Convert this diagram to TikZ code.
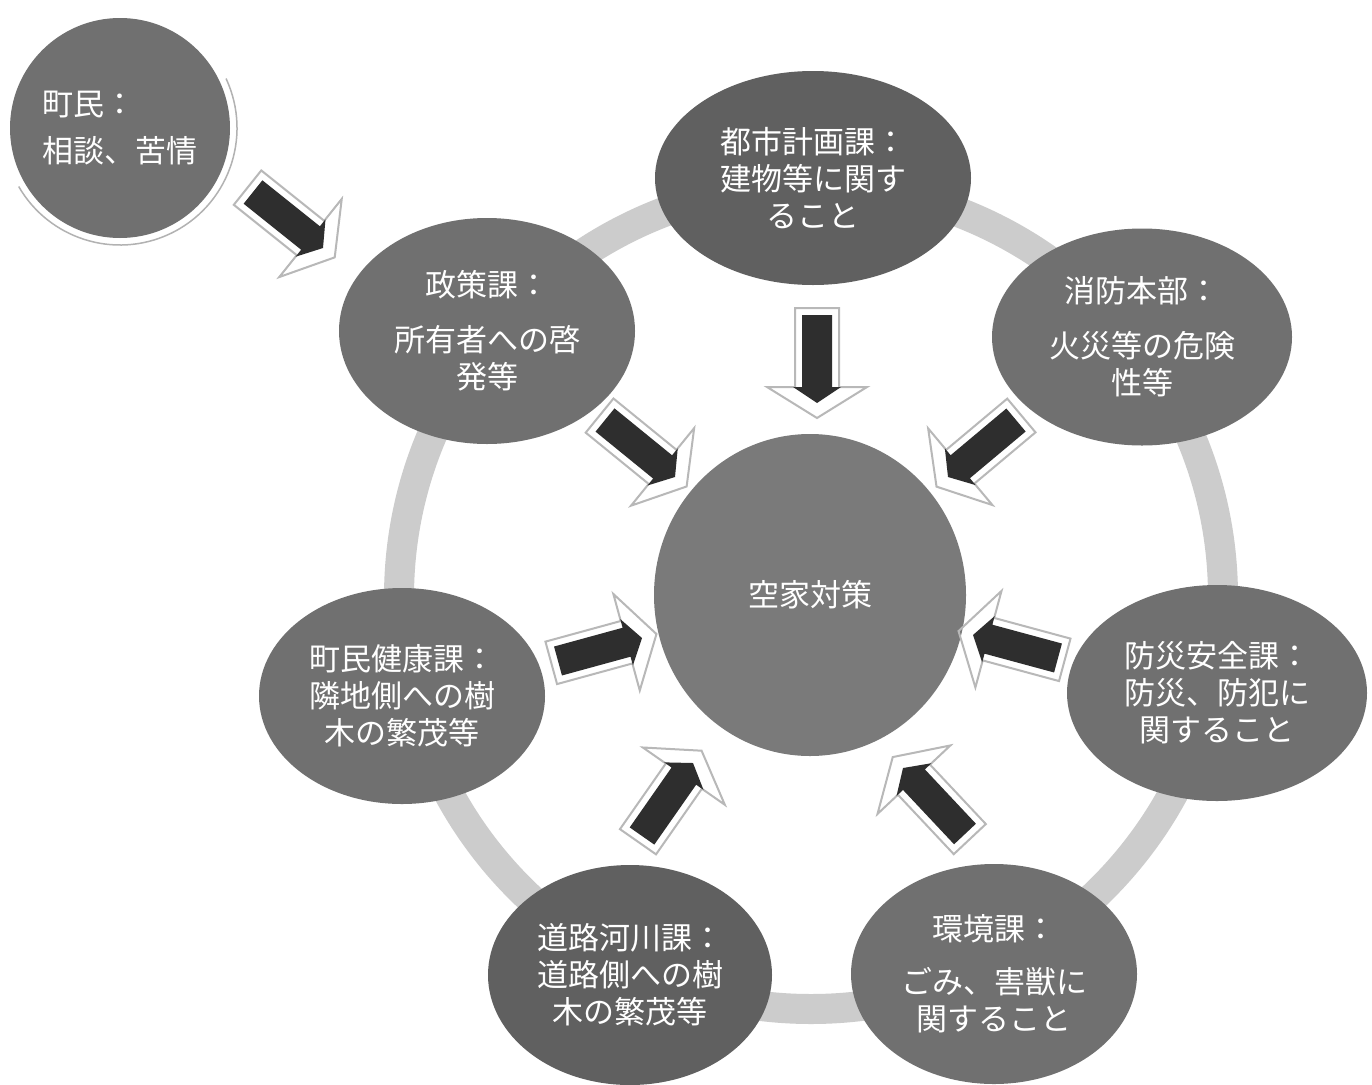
\documentclass[tikz,border=0pt]{standalone}
\usepackage{fontspec}
\newfontfamily\jp{Noto Sans CJK JP}
\usetikzlibrary{calc,shapes.geometric}
\definecolor{nodegray}{HTML}{707070}
\definecolor{nodedark}{HTML}{606060}
\definecolor{nodelight}{HTML}{7A7A7A}
\definecolor{arrowdark}{HTML}{2E2E2E}
\definecolor{shadowgray}{HTML}{B8B8B8}
\definecolor{ringgray}{HTML}{CCCCCC}
\newcommand\arrowshape[6]{%
  \coordinate (ah) at ($(#3)!#6!(#2)$);
  \path[#1] ($(#2)!#4!90:(#3)$) -- ($(ah)!#4!90:(#3)$) -- ($(ah)!#5!90:(#3)$) -- (#3)
    -- ($(ah)!#5!-90:(#3)$) -- ($(ah)!#4!-90:(#3)$) -- ($(#2)!#4!-90:(#3)$) -- cycle;
}
\newcommand\blockarrow[2]{%
  \coordinate (bsS) at ($(#1)!7pt!180:(#2)$);
  \coordinate (bsE) at ($(#2)!15pt!180:(#1)$);
  \arrowshape{draw=shadowgray, line width=2pt, line join=miter}{bsS}{bsE}{22pt}{50pt}{31pt}
  \arrowshape{fill=arrowdark}{#1}{#2}{15pt}{24pt}{16pt}
}
\begin{document}
\begin{tikzpicture}[x=1pt,y=-1pt,
  unit/.style={ellipse, inner sep=0pt, fill=nodegray, text=white, align=center,
    font=\jp\fontsize{31}{37}\selectfont},
  ringline/.style={draw=ringgray, line width=30pt},
  bevel/.style={draw=gray!60, line width=1.5pt}]
\fill[white] (0,0) rectangle (1372,1084);
\useasboundingbox (0,0) rectangle (1372,1084);

% cycle ring
\coordinate (ringc) at (811,597);
\draw[ringline] (ringc) circle[radius=412pt];

% nodes
\node[unit, circle, align=left, minimum size=220pt] (chomin) at (120,128) {町民：\\[10pt]相談、苦情};
\draw[bevel] ($(chomin.center)+(25:117pt)$) arc[start angle=25, end angle=-150, radius=117pt];

\node[unit, fill=nodedark, minimum width=316pt, minimum height=214pt] (toshi) at (813,178) {都市計画課：\\建物等に関す\\ること};
\node[unit, minimum width=296pt, minimum height=226pt] (seisaku) at (487,331) {政策課：\\[18pt]所有者への啓\\発等};
\node[unit, minimum width=300pt, minimum height=217pt] (shobo) at (1142,337) {消防本部：\\[18pt]火災等の危険\\性等};
\node[unit, fill=nodelight, minimum width=312pt, minimum height=322pt] (akiya) at (810,595) {空家対策};
\node[unit, minimum width=286pt, minimum height=216pt] (kenko) at (402,696) {町民健康課：\\隣地側への樹\\木の繁茂等};
\node[unit, minimum width=300pt, minimum height=216pt] (bosai) at (1217,693) {防災安全課：\\防災、防犯に\\関すること};
\node[unit, fill=nodedark, minimum width=284pt, minimum height=220pt] (doro) at (630,975) {道路河川課：\\道路側への樹\\木の繁茂等};
\node[unit, minimum width=286pt, minimum height=220pt] (kankyo) at (994,974) {環境課：\\[16pt]ごみ、害獣に\\関すること};

% arrow end points
\coordinate (a1s) at (253,192); \coordinate (a1e) at (323,248);
\coordinate (a2s) at (817,315); \coordinate (a2e) at (817,403);
\coordinate (a3s) at (605,420); \coordinate (a3e) at (675,477);
\coordinate (a4s) at (1016,420); \coordinate (a4e) at (948,477);
\coordinate (a5s) at (558,661); \coordinate (a5e) at (642,638);
\coordinate (a6s) at (1058,658); \coordinate (a6e) at (973,635);
\coordinate (a7s) at (642,836); \coordinate (a7e) at (693,763);
\coordinate (a8s) at (965,834); \coordinate (a8e) at (903,768);

\blockarrow{a1s}{a1e}
\blockarrow{a2s}{a2e}
\blockarrow{a3s}{a3e}
\blockarrow{a4s}{a4e}
\blockarrow{a5s}{a5e}
\blockarrow{a6s}{a6e}
\blockarrow{a7s}{a7e}
\blockarrow{a8s}{a8e}
\end{tikzpicture}
\end{document}
